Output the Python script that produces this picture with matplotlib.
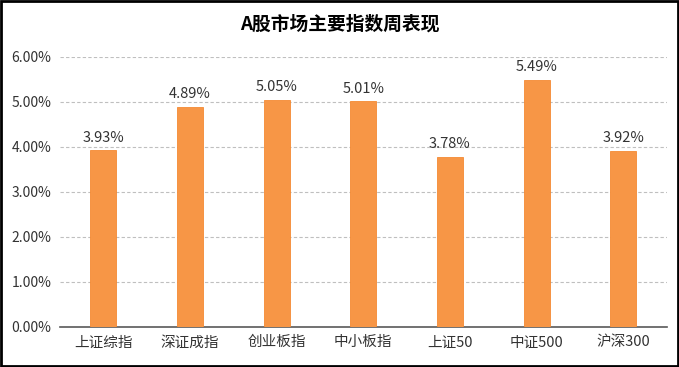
import matplotlib
matplotlib.use("Agg")
import matplotlib.pyplot as plt
from matplotlib.patches import Rectangle

plt.rcParams['font.family'] = ['Noto Sans CJK SC', 'DejaVu Sans']

categories = ["上证综指", "深证成指", "创业板指", "中小板指", "上证50", "中证500", "沪深300"]
values = [3.93, 4.89, 5.05, 5.01, 3.78, 5.49, 3.92]
yticks = [0, 1, 2, 3, 4, 5, 6]
title = "A股市场主要指数周表现"

fig = plt.figure(figsize=(6.79, 3.67), dpi=100)
ax = fig.add_axes([0.088, 0.109, 0.894, 0.736])

x = range(len(categories))
ax.bar(x, values, width=0.3, color="#F79646", edgecolor="#F58A33", linewidth=0.6, zorder=3)
for xi, v in zip(x, values):
    ax.text(xi, v + 0.12, f"{v:.2f}%", ha="center", va="bottom", fontsize=10.5, color="#333333")

ax.set_ylim(0, 6)
ax.set_xlim(-0.5, len(categories) - 0.5)
ax.set_yticks(yticks)
ax.set_yticklabels([f"{t:.2f}%" for t in yticks], fontsize=10, color="#333333")
ax.set_xticks(list(x))
ax.set_xticklabels(categories, fontsize=10.5, color="#333333")
ax.tick_params(axis="both", length=0, pad=6)
ax.yaxis.grid(True, linestyle=(0, (3, 2)), color="#BFBFBF", linewidth=0.8, zorder=0)
for s in ["top", "right", "left"]:
    ax.spines[s].set_visible(False)
ax.spines["bottom"].set_color("#595959")
ax.spines["bottom"].set_linewidth(1.2)

fig.text(0.5, 0.935, title, ha="center", va="center", fontsize=13.5, fontweight="bold", color="#000000")

fig.patches.append(Rectangle((0.002, 0.003), 0.996, 0.994, transform=fig.transFigure,
                             fill=False, edgecolor="#000000", linewidth=2))

fig.savefig("out.png", dpi=100)
